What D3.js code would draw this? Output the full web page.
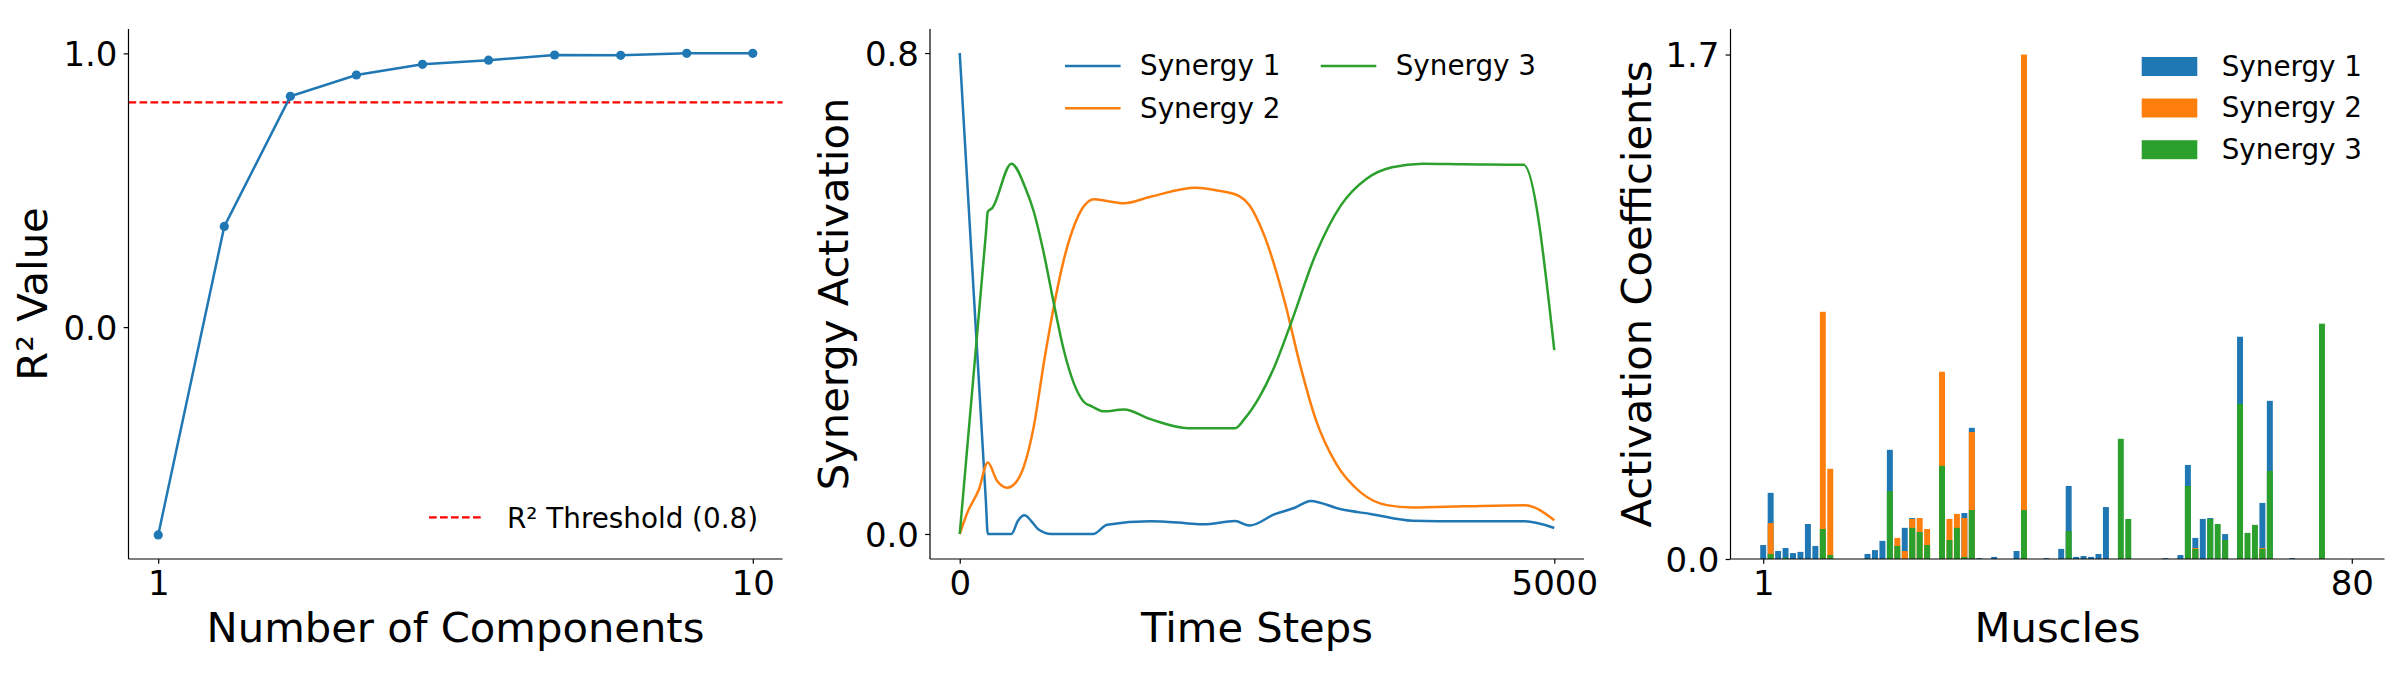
<!DOCTYPE html>
<html>
<head>
<meta charset="utf-8">
<script src="https://cdn.jsdelivr.net/npm/d3@7"></script>
<style>
  html, body { margin: 0; padding: 0; background: #fff; }
  svg { display: block; font-family: "DejaVu Sans", sans-serif; }
</style>
</head>
<body>
<svg id="chart" width="2400" height="700"></svg>
<script>
// ---------------- DATA ----------------
// Panel 1: R² vs number of components
const components = [1, 2, 3, 4, 5, 6, 7, 8, 9, 10];
const r2Values = [-0.759, 0.368, 0.843, 0.921, 0.960, 0.975, 0.994, 0.993, 1.0, 1.0];
const r2Threshold = 0.821;
const r2Ticks = [0.0, 1.0];
const compTicks = [1, 10];

// Panel 2: synergy activations over time
const syn1T = [0, 118, 220, 236, 435, 490, 545, 600, 660, 772, 1122, 1240, 1604, 1900, 2050, 2315, 2436, 2650, 2822, 2950, 3207, 3465, 3808, 4237, 4751, 5000];
const syn1V = [0.8, 0.4, 0.054, 0.0, 0.0, 0.022, 0.031, 0.022, 0.008, 0.0, 0.0, 0.0155, 0.021, 0.018, 0.016, 0.0215, 0.014, 0.033, 0.044, 0.055, 0.041, 0.033, 0.022, 0.021, 0.021, 0.010];
const syn2T = [0, 63, 161, 236, 315, 399, 469, 539, 623, 707, 791, 875, 959, 1043, 1127, 1240, 1380, 1604, 1985, 2178, 2350, 2436, 2564, 2736, 2864, 2993, 3165, 3379, 3593, 3808, 4237, 4751, 5000];
const syn2V = [0.0, 0.035, 0.074, 0.119, 0.088, 0.077, 0.085, 0.112, 0.179, 0.284, 0.378, 0.456, 0.511, 0.545, 0.557, 0.554, 0.550, 0.561, 0.576, 0.571, 0.562, 0.547, 0.495, 0.384, 0.280, 0.191, 0.117, 0.068, 0.048, 0.044, 0.046, 0.048, 0.023];
const syn3T = [0, 220, 236, 273, 435, 553, 623, 707, 791, 875, 959, 1043, 1114, 1211, 1380, 1604, 1921, 2315, 2393, 2521, 2650, 2779, 2993, 3207, 3422, 3636, 3894, 4237, 4743, 5000];
const syn3V = [0.0, 0.500, 0.536, 0.542, 0.616, 0.575, 0.536, 0.467, 0.384, 0.306, 0.251, 0.220, 0.212, 0.204, 0.207, 0.191, 0.176, 0.176, 0.191, 0.228, 0.280, 0.347, 0.465, 0.547, 0.591, 0.610, 0.616, 0.615, 0.614, 0.306];
const timeTicks = [0, 5000];
const actTicks = [0.0, 0.8];

// Panel 3: activation coefficients per muscle (bars overlap, drawn S1, S2, S3)
const muscles = d3.range(1, 81);
const coefS1 = [0.047,0.223,0.027,0.037,0.020,0.024,0.118,0.044,0,0,
                0,0,0,0,0.017,0.030,0.061,0.368,0,0.105,
                0.138,0,0,0,0,0,0,0.155,0.442,0.003,
                0,0.007,0,0,0.027,0,0,0,0.003,0,
                0.034,0.246,0.007,0.010,0.007,0.017,0.175,0,0,0,
                0,0,0,0,0.003,0,0.0135,0.317,0.071,0.135,
                0.138,0,0.084,0,0.749,0,0,0.189,0.533,0,
                0,0.003,0,0,0,0,0,0,0,0];
const coefS2 = [0,0.121,0,0,0,0,0,0,0.833,0.304,
                0,0,0,0,0,0,0,0,0.071,0.027,
                0.135,0.138,0.101,0,0.631,0.135,0.152,0.138,0.428,0,
                0,0,0,0,0,1.70,0,0,0,0,
                0,0,0,0,0,0,0,0,0,0,
                0,0,0,0,0,0,0,0,0.037,0,
                0,0,0,0,0,0,0,0.037,0,0,
                0,0,0,0,0,0,0,0,0,0];
const coefS3 = [0,0.017,0,0.0045,0,0,0,0,0.101,0.0135,
                0,0,0,0,0,0,0,0.229,0.044,0,
                0.105,0.091,0.047,0,0.314,0.064,0.105,0.0067,0.165,0,
                0,0,0,0,0,0.165,0,0,0,0,
                0,0.094,0,0,0,0,0,0,0.405,0.135,
                0,0,0,0,0,0,0,0.246,0.034,0,
                0.135,0.118,0.064,0,0.523,0.088,0.115,0.034,0.297,0,
                0,0,0,0,0,0.793,0,0,0,0];
const muscleTicks = [1, 80];
const coefTicks = [0.0, 1.7];

const seriesNames = ["Synergy 1", "Synergy 2", "Synergy 3"];
const colors = ["#1f77b4", "#ff7f0e", "#2ca02c"];

// ---------------- LAYOUT ----------------
const svg = d3.select("#chart");
const TOP = 29, BOTTOM = 559, W = 654;
const TICK_FS = 34, LABEL_FS = 41.7, LEG_FS = 27.8;
const LW = 2.5;

function drawAxes(g, x, y, xTicks, yTicks, yFmt, xLabel, yLabel, left, yLabelX) {
  // spines
  g.append("line").attr("x1", left).attr("x2", left).attr("y1", TOP).attr("y2", BOTTOM)
    .attr("stroke", "#000").attr("stroke-width", 1.2);
  g.append("line").attr("x1", left).attr("x2", left + W).attr("y1", BOTTOM).attr("y2", BOTTOM)
    .attr("stroke", "#000").attr("stroke-width", 1.2);
  // x ticks
  const xa = d3.axisBottom(x).tickValues(xTicks).tickSize(4.86).tickPadding(4.86).tickFormat(d3.format("d"));
  const gx = g.append("g").attr("transform", `translate(0,${BOTTOM})`).call(xa);
  gx.select(".domain").remove();
  gx.selectAll(".tick line").attr("stroke-width", 1.2);
  gx.selectAll(".tick text").attr("font-size", TICK_FS).attr("font-family", "DejaVu Sans").attr("fill", "#000")
    .attr("dy", null).attr("y", 36);
  // y ticks
  const ya = d3.axisLeft(y).tickValues(yTicks).tickSize(4.86).tickPadding(4.86).tickFormat(yFmt);
  const gy = g.append("g").attr("transform", `translate(${left},0)`).call(ya);
  gy.select(".domain").remove();
  gy.selectAll(".tick line").attr("stroke-width", 1.2);
  gy.selectAll(".tick text").attr("font-size", TICK_FS).attr("font-family", "DejaVu Sans").attr("fill", "#000")
    .attr("dy", null).attr("y", 12.4).attr("x", -11);
  // labels
  g.append("text").attr("x", left + W / 2).attr("y", 642).attr("text-anchor", "middle")
    .attr("font-size", LABEL_FS).text(xLabel);
  g.append("text").attr("transform", `translate(${yLabelX},${(TOP + BOTTOM) / 2}) rotate(-90)`)
    .attr("text-anchor", "middle").attr("font-size", LABEL_FS).text(yLabel);
}

// ---------------- PANEL 1 ----------------
{
  const left = 128.5;
  const g = svg.append("g");
  const x = d3.scaleLinear().domain([0.55, 10.45]).range([left, left + W]);
  const y = d3.scaleLinear().domain([-0.847, 1.089]).range([BOTTOM, TOP]);
  const pts = components.map((c, i) => [c, r2Values[i]]);
  g.append("line").attr("x1", left).attr("x2", left + W)
    .attr("y1", y(r2Threshold)).attr("y2", y(r2Threshold))
    .attr("stroke", "#ff0000").attr("stroke-width", 2.2).attr("stroke-dasharray", "7.7,3.3");
  g.append("path").attr("d", d3.line().x(d => x(d[0])).y(d => y(d[1]))(pts))
    .attr("fill", "none").attr("stroke", colors[0]).attr("stroke-width", LW);
  g.selectAll("circle").data(pts).join("circle")
    .attr("cx", d => x(d[0])).attr("cy", d => y(d[1])).attr("r", 4.6).attr("fill", colors[0]);
  drawAxes(g, x, y, compTicks, r2Ticks, d3.format(".1f"), "Number of Components", "R² Value", left, 46.5);
  // legend
  g.append("line").attr("x1", 429).attr("x2", 484).attr("y1", 517.3).attr("y2", 517.3)
    .attr("stroke", "#ff0000").attr("stroke-width", 2.2).attr("stroke-dasharray", "7.7,3.3");
  g.append("text").attr("x", 507).attr("y", 527.5).attr("font-size", LEG_FS).text("R² Threshold (0.8)");
}

// ---------------- PANEL 2 ----------------
{
  const left = 930;
  const g = svg.append("g");
  const x = d3.scaleLinear().domain([-250, 5250]).range([left, left + W]);
  const y = d3.scaleLinear().domain([-0.0416, 0.840]).range([BOTTOM, TOP]);
  const series = [[syn1T, syn1V], [syn2T, syn2V], [syn3T, syn3V]];
  const line = d3.line().x(d => x(d[0])).y(d => y(d[1])).curve(d3.curveMonotoneX);
  series.forEach(([ts, vs], i) => {
    g.append("path").attr("d", line(ts.map((t, j) => [t, vs[j]])))
      .attr("fill", "none").attr("stroke", colors[i]).attr("stroke-width", LW)
      .attr("stroke-linejoin", "round");
  });
  drawAxes(g, x, y, timeTicks, actTicks, d3.format(".1f"), "Time Steps", "Synergy Activation", left, 848);
  // legend (2 columns)
  const legPos = [[1065, 66], [1065, 108.3], [1320.7, 66]];
  legPos.forEach(([lx, ly], i) => {
    g.append("line").attr("x1", lx).attr("x2", lx + 55.6).attr("y1", ly).attr("y2", ly)
      .attr("stroke", colors[i]).attr("stroke-width", LW);
    g.append("text").attr("x", lx + 75).attr("y", ly + 9.3).attr("font-size", LEG_FS).text(seriesNames[i]);
  });
}

// ---------------- PANEL 3 ----------------
{
  const left = 1730.5;
  const g = svg.append("g");
  const x = d3.scaleLinear().domain([-3.39, 84.39]).range([left, left + W]);
  const y = d3.scaleLinear().domain([0, 1.786]).range([BOTTOM, TOP]);
  const bw = 0.8 * (x(2) - x(1));
  [coefS1, coefS2, coefS3].forEach((vals, si) => {
    g.append("g").selectAll("rect").data(muscles.map((m, i) => [m, vals[i]]).filter(d => d[1] > 0)).join("rect")
      .attr("x", d => x(d[0]) - bw / 2).attr("width", bw)
      .attr("y", d => y(d[1])).attr("height", d => y(0) - y(d[1]))
      .attr("fill", colors[si]);
  });
  drawAxes(g, x, y, muscleTicks, coefTicks, d3.format(".1f"), "Muscles", "Activation Coefficients", left, 1651);
  // legend
  const rowY = [66.5, 108, 149.7];
  rowY.forEach((ry, i) => {
    g.append("rect").attr("x", 2141.7).attr("y", ry - 9.5).attr("width", 55.6).attr("height", 19)
      .attr("fill", colors[i]);
    g.append("text").attr("x", 2221.7).attr("y", ry + 9.3).attr("font-size", LEG_FS).text(seriesNames[i]);
  });
}
</script>
</body>
</html>
